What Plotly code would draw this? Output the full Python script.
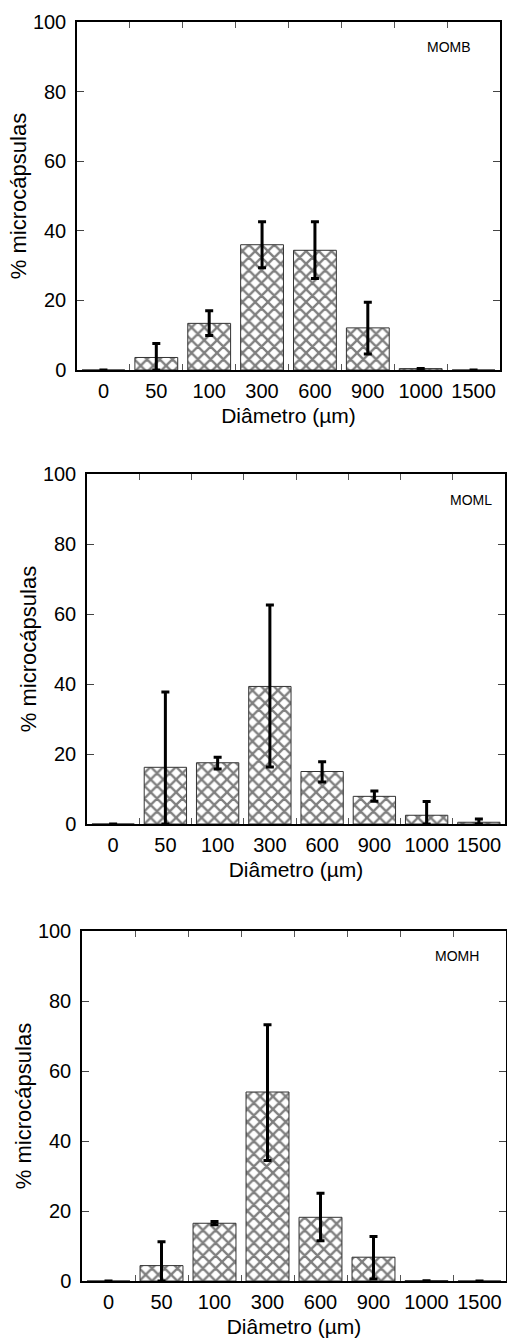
import plotly.graph_objects as go

categories = ["0", "50", "100", "300", "600", "900", "1000", "1500"]

momb_vals = [0.0, 3.6, 13.4, 36.0, 34.4, 12.1, 0.4, 0.0]
momb_err_plus = [0.0, 4.0, 3.6, 6.6, 8.2, 7.4, 0.0, 0.0]
momb_err_minus = [0.0, 3.6, 3.5, 6.6, 8.1, 7.5, 0.0, 0.0]

moml_vals = [0.0, 16.2, 17.5, 39.3, 15.0, 7.9, 2.5, 0.5]
moml_err_plus = [0.0, 21.5, 1.6, 23.3, 2.8, 1.5, 3.9, 0.9]
moml_err_minus = [0.0, 16.2, 1.8, 23.0, 3.0, 1.4, 2.5, 0.5]

momh_vals = [0.0, 4.4, 16.5, 54.0, 18.2, 6.8, 0.1, 0.0]
momh_err_plus = [0.0, 6.8, 0.5, 19.2, 6.9, 5.9, 0.0, 0.0]
momh_err_minus = [0.0, 4.4, 0.4, 19.6, 6.7, 6.2, 0.1, 0.0]

panel_labels = ["MOMB", "MOML", "MOMH"]
y_ticks = [0, 20, 40, 60, 80, 100]

W, H = 507, 1342
# pixel boxes of plot areas: (left, right, top, bottom)
boxes = [(77, 500, 22, 370), (87, 505, 474, 824), (82, 506, 931, 1281)]
label_pos = [(0.879, 0.928), (0.918, 0.926), (0.884, 0.929)]

series = [
    (momb_vals, momb_err_plus, momb_err_minus),
    (moml_vals, moml_err_plus, moml_err_minus),
    (momh_vals, momh_err_plus, momh_err_minus),
]

FONT = "Liberation Sans, Arial, sans-serif"
fig = go.Figure()
layout = dict(
    width=W, height=H, margin=dict(l=0, r=0, t=0, b=0),
    paper_bgcolor="white", plot_bgcolor="white", showlegend=False,
    bargap=0.19, font=dict(family=FONT, color="black"),
)
annotations = []
for i, ((vals, ep, em), (l, r, t, b)) in enumerate(zip(series, boxes)):
    n = i + 1
    xs = "" if n == 1 else str(n)
    xname, yname = "x" + xs, "y" + xs
    fig.add_trace(go.Bar(
        x=categories, y=vals, xaxis=xname, yaxis=yname,
        marker=dict(color="white", line=dict(color="#333333", width=1),
                    pattern=dict(shape="x", fgcolor="black", bgcolor="white",
                                 size=9, solidity=0.45)),
        error_y=dict(type="data", symmetric=False, array=ep, arrayminus=em,
                     color="black", thickness=3, width=4),
    ))
    xd = [l / W, r / W]
    yd = [1 - b / H, 1 - t / H]
    layout["xaxis" + xs] = dict(
        domain=xd, anchor=yname, type="category", categoryorder="array",
        categoryarray=categories, range=[-0.5, 7.5], tickson="boundaries",
        ticks="inside", ticklen=6, tickcolor="#555555", mirror="ticks",
        showline=True, linecolor="black", linewidth=1.5, showgrid=False,
        tickfont=dict(size=20), ticklabelstandoff=2, tickangle=0,
        title=dict(text="Diâmetro (µm)", font=dict(size=21), standoff=8),
        automargin=False, fixedrange=True,
    )
    layout["yaxis" + xs] = dict(
        domain=yd, anchor=xname, range=[0, 100], tickmode="array",
        tickvals=y_ticks, ticks="inside", ticklen=7, tickcolor="#444444",
        mirror="ticks",
        showline=True, linecolor="black", linewidth=1.5, showgrid=False,
        zeroline=False, tickfont=dict(size=20), ticklabelstandoff=5,
        title=dict(text="% microcápsulas", font=dict(size=22), standoff=0),
        automargin=False, fixedrange=True,
    )
    annotations.append(dict(
        text=panel_labels[i], xref=xname + " domain", yref=yname + " domain",
        x=label_pos[i][0], y=label_pos[i][1], showarrow=False,
        xanchor="center", yanchor="middle", font=dict(size=14),
    ))
layout["annotations"] = annotations
fig.update_layout(**layout)
fig.write_html(
    "out.html",
    config={"displayModeBar": False},
    post_script="document.body.style.margin='0';document.body.style.overflow='hidden';",
)
